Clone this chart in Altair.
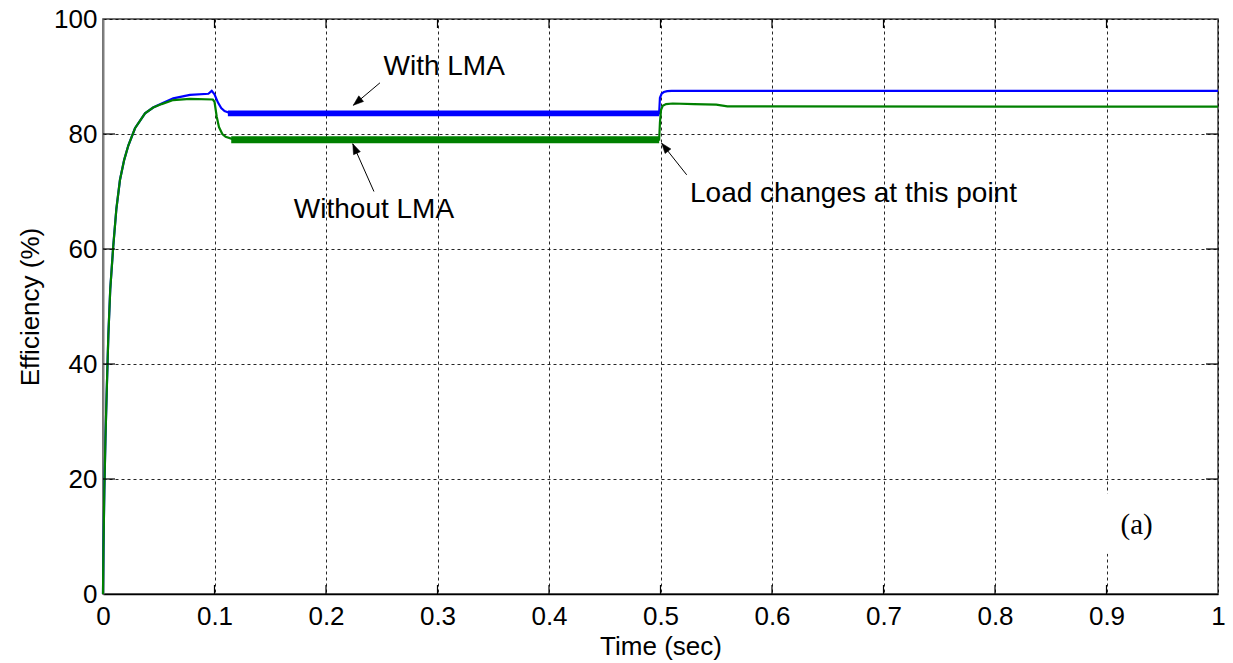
import math
import altair as alt
import pandas as pd

# ---- efficiency traces (time in s, efficiency in %) ----
t_with = [0, 0.0004, 0.0012, 0.0022, 0.0033, 0.0048, 0.0065, 0.0092, 0.012, 0.0152,
          0.019, 0.0227, 0.0287, 0.0377, 0.045, 0.0526, 0.063, 0.078, 0.0945, 0.0975,
          0.1, 0.103, 0.106, 0.109, 0.113, 0.12, 0.3, 0.4988, 0.4995, 0.501, 0.503,
          0.506, 0.51, 1.0]
e_with = [0, 8, 18, 27, 35, 45, 53, 60.5, 67, 72,
          75.5, 78, 81, 83.6, 84.6, 85.3, 86.2, 86.8, 87.0, 87.5,
          86.9, 85.5, 84.5, 84.0, 83.7, 83.6, 83.6, 83.6, 86.3, 87.0, 87.3,
          87.45, 87.5, 87.5]

t_without = [0, 0.0004, 0.0012, 0.0022, 0.0033, 0.0048, 0.0065, 0.0092, 0.012, 0.0152,
             0.019, 0.0227, 0.0287, 0.0377, 0.045, 0.0526, 0.063, 0.078, 0.0985, 0.1,
             0.102, 0.104, 0.107, 0.11, 0.115, 0.125, 0.3, 0.4988, 0.4995, 0.5005,
             0.502, 0.505, 0.511, 0.53, 0.55, 0.56, 1.0]
e_without = [0, 8, 18, 27, 35, 45, 53, 60.5, 67, 72,
             75.5, 78, 81, 83.6, 84.6, 85.2, 85.9, 86.1, 86.0, 85.6,
             83.0, 81.2, 80.0, 79.5, 79.2, 79.0, 79.0, 79.0, 82.0, 84.2,
             84.9, 85.2, 85.3, 85.2, 85.1, 84.8, 84.75]

# switching ripple band during the first load interval
ripple_series = ["With LMA", "Without LMA"]
ripple_start = [0.112, 0.115]
ripple_end = [0.4988, 0.4988]
ripple_low = [83.1, 78.4]
ripple_high = [84.1, 79.6]

# ---- annotations ----
note_text = ["With LMA", "Without LMA", "Load changes at this point"]
note_t = [0.306, 0.243, 0.5265]
note_e = [90.3, 65.4, 68.2]
note_align = ["center", "center", "left"]
arrow_tail_t = [0.2484, 0.243, 0.5235]
arrow_tail_e = [88.9, 70.0, 72.9]
arrow_tip_t = [0.2245, 0.224, 0.501]
arrow_tip_e = [85.0, 78.3, 78.4]

panel_label = "(a)"
panel_t, panel_e = 0.927, 12.0
panel_box_t = [0.895, 0.985]
panel_box_e = [7.0, 17.5]

x_ticks = [round(0.1 * i, 1) for i in range(11)]
y_ticks = [0, 20, 40, 60, 80, 100]

W, H = 1115, 575
X_DOM, Y_DOM = [0, 1], [0, 100]
FONT = "Liberation Sans"

blue, green = "#0000ff", "#008000"

lines = pd.concat([
    pd.DataFrame({"t": t_with, "eff": e_with, "series": "With LMA"}),
    pd.DataFrame({"t": t_without, "eff": e_without, "series": "Without LMA"}),
])
ripple = pd.DataFrame({"series": ripple_series, "t0": ripple_start, "t1": ripple_end,
                       "lo": ripple_low, "hi": ripple_high})

# arrowhead angle in screen space (clockwise from up)
px_t = W / (X_DOM[1] - X_DOM[0])
px_e = H / (Y_DOM[1] - Y_DOM[0])
angles = []
for a, b, c, d in zip(arrow_tail_t, arrow_tail_e, arrow_tip_t, arrow_tip_e):
    dx = (c - a) * px_t
    dy = -(d - b) * px_e
    angles.append(math.degrees(math.atan2(dx, -dy)) % 360)

arrows = pd.DataFrame({"t0": arrow_tail_t, "e0": arrow_tail_e, "t1": arrow_tip_t,
                       "e1": arrow_tip_e, "ang": angles})
notes = pd.DataFrame({"text": note_text, "t": note_t, "e": note_e, "align": note_align})

x_scale = alt.Scale(domain=X_DOM, nice=False)
y_scale = alt.Scale(domain=Y_DOM, nice=False)
color_scale = alt.Scale(domain=["With LMA", "Without LMA"], range=[blue, green])

x_axis = alt.Axis(values=x_ticks, format="~g", title="Time (sec)", ticks=False,
                  labelFont=FONT, labelFontSize=26, labelColor="black", labelPadding=9,
                  labelFlush=False, labelOverlap=False,
                  titleFont=FONT, titleFontSize=26, titleFontWeight="normal",
                  titleColor="black", titlePadding=4,
                  domainColor="black", domainWidth=1.5,
                  grid=True, gridColor="black", gridDash=[3, 3], gridOpacity=0.85,
                  gridWidth=1)
y_axis = alt.Axis(values=y_ticks, title="Efficiency (%)", ticks=False,
                  labelFont=FONT, labelFontSize=26, labelColor="black", labelPadding=6,
                  labelFlush=False, labelOverlap=False,
                  titleFont=FONT, titleFontSize=26, titleFontWeight="normal",
                  titleColor="black", titlePadding=10,
                  domainColor="#7f7f7f", domainWidth=2,
                  grid=True, gridColor="black", gridDash=[3, 3], gridOpacity=0.85,
                  gridWidth=1)


def X(field):
    return alt.X(field, scale=x_scale, axis=x_axis)


def Y(field):
    return alt.Y(field, scale=y_scale, axis=y_axis)


base_lines = alt.Chart(lines)
trace_with = base_lines.transform_filter(alt.datum.series == "With LMA").mark_line(
    strokeWidth=2.2).encode(
    x=X("t:Q"), y=Y("eff:Q"),
    color=alt.Color("series:N", scale=color_scale, legend=None),
)
trace_without = base_lines.transform_filter(alt.datum.series == "Without LMA").mark_line(
    strokeWidth=2.2).encode(
    x=X("t:Q"), y=Y("eff:Q"),
    color=alt.Color("series:N", scale=color_scale, legend=None),
)

ripple_band = alt.Chart(ripple).mark_rect().encode(
    x=X("t0:Q"), x2="t1:Q", y=Y("lo:Q"), y2="hi:Q",
    color=alt.Color("series:N", scale=color_scale, legend=None),
)

# inward tick marks on all four sides of the box
xt = pd.DataFrame({"v": x_ticks[1:-1]})
yt = pd.DataFrame({"v": y_ticks[1:-1]})
tick_style = dict(color="black", strokeWidth=1.2)
x_ticks_bottom = alt.Chart(xt).mark_rule(**tick_style).encode(
    x=X("v:Q"), y=alt.value(H), y2=alt.value(H - 9))
x_ticks_top = alt.Chart(xt).mark_rule(**tick_style).encode(
    x=X("v:Q"), y=alt.value(0), y2=alt.value(9))
y_ticks_left = alt.Chart(yt).mark_rule(**tick_style).encode(
    y=Y("v:Q"), x=alt.value(0), x2=alt.value(12))
y_ticks_right = alt.Chart(yt).mark_rule(**tick_style).encode(
    y=Y("v:Q"), x=alt.value(W - 12), x2=alt.value(W))

arrow_shafts = alt.Chart(arrows).mark_rule(color="black", strokeWidth=1).encode(
    x=X("t0:Q"), y=Y("e0:Q"), x2="t1:Q", y2="e1:Q")
arrow_heads = alt.Chart(arrows).mark_point(
    shape="M0,0L-0.36,1L0.36,1Z", filled=True, fill="black", stroke="black",
    strokeWidth=0.5, opacity=1, size=420).encode(
    x=X("t1:Q"), y=Y("e1:Q"), angle=alt.Angle("ang:Q", scale=None))

note_layers = []
for _, r in notes.iterrows():
    note_layers.append(
        alt.Chart(pd.DataFrame([r])).mark_text(
            font=FONT, fontSize=28, color="black", align=r["align"], baseline="alphabetic"
        ).encode(x=X("t:Q"), y=Y("e:Q"), text="text:N")
    )

panel_box = alt.Chart(pd.DataFrame({"t0": [panel_box_t[0]], "t1": [panel_box_t[1]],
                                    "e0": [panel_box_e[0]], "e1": [panel_box_e[1]]})).mark_rect(
    color="white").encode(x=X("t0:Q"), x2="t1:Q", y=Y("e0:Q"), y2="e1:Q")
panel_text = alt.Chart(pd.DataFrame({"t": [panel_t], "e": [panel_e], "s": [panel_label]})).mark_text(
    font="Liberation Serif", fontSize=29, color="black", align="center", baseline="middle"
).encode(x=X("t:Q"), y=Y("e:Q"), text="s:N")

chart = alt.layer(
    trace_with, ripple_band, trace_without,
    x_ticks_bottom, x_ticks_top, y_ticks_left, y_ticks_right,
    panel_box, panel_text,
    arrow_shafts, arrow_heads, *note_layers,
).properties(
    width=W, height=H,
    autosize=alt.AutoSizeParams(type="none"),
    padding={"left": 103, "top": 19, "right": 15, "bottom": 69},
    background="white",
).configure_view(stroke="#404040", strokeWidth=1.5)

chart.save("out.html", embed_options={"renderer": "svg", "actions": False})
